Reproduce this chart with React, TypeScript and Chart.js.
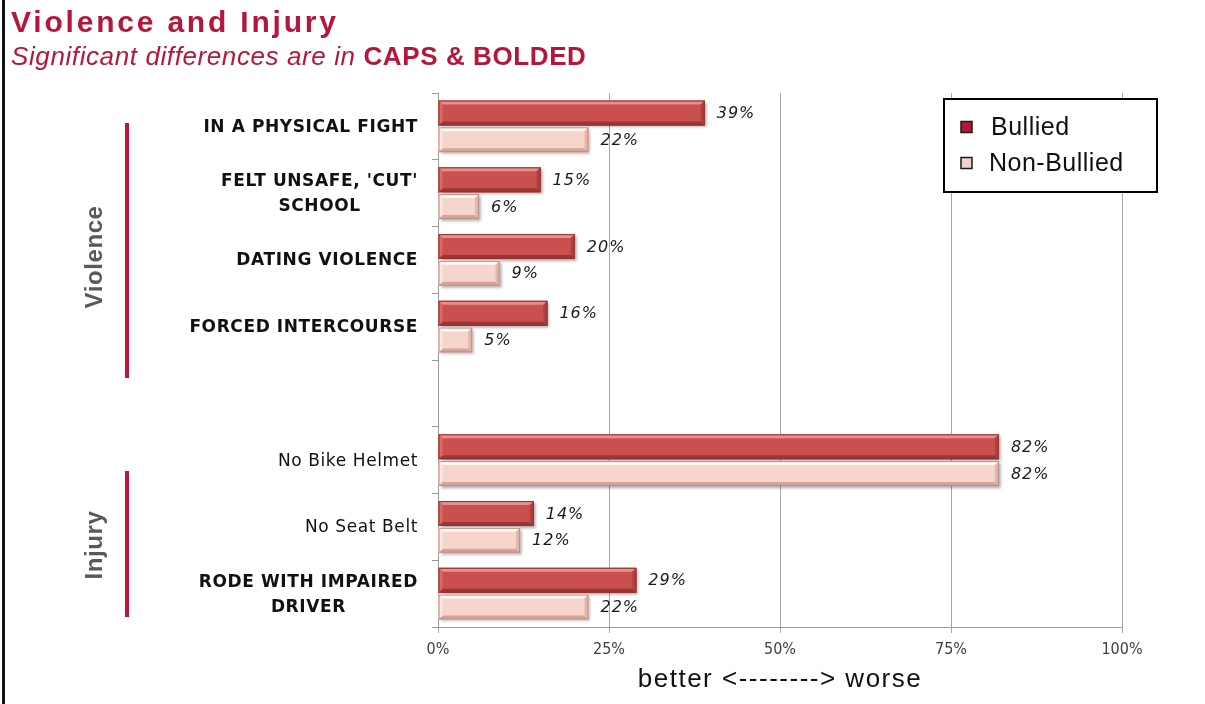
import React, { useEffect, useRef } from "react";
import { Chart, registerables } from "chart.js";

Chart.register(...registerables);

// ---------- data ----------
const categories: (string | string[])[] = [
  "IN A PHYSICAL FIGHT",
  ["FELT UNSAFE, 'CUT'", "SCHOOL"],
  "DATING VIOLENCE",
  "FORCED INTERCOURSE",
  "",
  "No Bike Helmet",
  "No Seat Belt",
  ["RODE WITH IMPAIRED", "DRIVER"],
];
const significant = [true, true, true, true, false, false, false, true];
const bulliedValues: (number | null)[] = [39, 15, 20, 16, null, 82, 14, 29];
const nonBulliedValues: (number | null)[] = [22, 6, 9, 5, null, 82, 12, 22];
const seriesLabels = ["Bullied", "Non-Bullied"];
const xTickValues = [0, 25, 50, 75, 100];
const xAxisTitle = "better <--------> worse";
const groupLabels = ["Violence", "Injury"];
const titleText = "Violence and Injury";
const subtitlePlain = "Significant differences are in ";
const subtitleBold = "CAPS & BOLDED";

// ---------- styles ----------
const CRIMSON = "#b5173a";
const palettes = [
  { face: "#c9504f", top: "#e8908c", left: "#d96a67", right: "#b0403e", bottom: "#9c3533", edge: "#8f3331" },
  { face: "#f6d5cc", top: "#fff6f3", left: "#fbe6df", right: "#e5b7ab", bottom: "#d6a598", edge: "#b48f86" },
];
const legendSwatch = ["#b5173a", "#f2d2ca"];
// decorative group brackets: [lineTop, lineBottom, textCenterY]
const groupDeco = [
  [123, 378, 257],
  [471, 617, 545],
];

function poly(ctx: CanvasRenderingContext2D, pts: number[][], color: string) {
  ctx.beginPath();
  ctx.moveTo(pts[0][0], pts[0][1]);
  for (let i = 1; i < pts.length; i++) ctx.lineTo(pts[i][0], pts[i][1]);
  ctx.closePath();
  ctx.fillStyle = color;
  ctx.fill();
}

function barRect(el: any) {
  const p = el.getProps(["x", "y", "base", "height"], true);
  const x0 = Math.min(p.base, p.x);
  const x1 = Math.max(p.base, p.x);
  const y0 = p.y - p.height / 2;
  const y1 = p.y + p.height / 2;
  return { x0, x1, y0, y1, cy: p.y };
}

const barDecorPlugin = {
  id: "barDecor",
  beforeDatasetsDraw(chart: any) {
    const ctx: CanvasRenderingContext2D = chart.ctx;
    chart.data.datasets.forEach((ds: any, di: number) => {
      const meta = chart.getDatasetMeta(di);
      meta.data.forEach((el: any, i: number) => {
        if (ds.data[i] == null) return;
        const r = barRect(el);
        ctx.save();
        ctx.shadowColor = "rgba(0,0,0,0.35)";
        ctx.shadowOffsetX = 2;
        ctx.shadowOffsetY = 2;
        ctx.shadowBlur = 3;
        ctx.fillStyle = palettes[di].face;
        ctx.fillRect(r.x0, r.y0, r.x1 - r.x0, r.y1 - r.y0);
        ctx.restore();
      });
    });
  },
  afterDatasetsDraw(chart: any) {
    const ctx: CanvasRenderingContext2D = chart.ctx;
    chart.data.datasets.forEach((ds: any, di: number) => {
      const meta = chart.getDatasetMeta(di);
      const pal = palettes[di];
      meta.data.forEach((el: any, i: number) => {
        const v = ds.data[i];
        if (v == null) return;
        const { x0, x1, y0, y1, cy } = barRect(el);
        const w = x1 - x0;
        const h = y1 - y0;
        const b = Math.min(4, w / 2, h / 2);
        ctx.save();
        poly(ctx, [[x0, y0], [x1, y0], [x1 - b, y0 + b], [x0 + b, y0 + b]], pal.top);
        poly(ctx, [[x0, y1], [x1, y1], [x1 - b, y1 - b], [x0 + b, y1 - b]], pal.bottom);
        poly(ctx, [[x0, y0], [x0 + b, y0 + b], [x0 + b, y1 - b], [x0, y1]], pal.left);
        poly(ctx, [[x1, y0], [x1 - b, y0 + b], [x1 - b, y1 - b], [x1, y1]], pal.right);
        ctx.strokeStyle = pal.edge;
        ctx.lineWidth = 1;
        ctx.strokeRect(x0 + 0.5, y0 + 0.5, w - 1, h - 1);
        // value label
        ctx.font = "italic 16px 'DejaVu Sans', sans-serif";
        (ctx as any).letterSpacing = "1px";
        ctx.fillStyle = "#1a1a1a";
        ctx.textAlign = "left";
        ctx.textBaseline = "middle";
        ctx.fillText(v + "%", x1 + 12, cy + 1);
        ctx.restore();
      });
    });
  },
  afterDraw(chart: any) {
    const ctx: CanvasRenderingContext2D = chart.ctx;
    const yScale = chart.scales.y;
    const xScale = chart.scales.x;
    const area = chart.chartArea;
    ctx.save();
    // category labels
    const labelRight = area.left - 20;
    categories.forEach((lab, i) => {
      const lines = Array.isArray(lab) ? lab : [lab];
      if (!lines[0]) return;
      const cy = yScale.getPixelForValue(i);
      ctx.font = significant[i]
        ? "bold 17px 'DejaVu Sans', sans-serif"
        : "17px 'DejaVu Sans', sans-serif";
      (ctx as any).letterSpacing = "0.6px";
      ctx.fillStyle = "#111";
      ctx.textBaseline = "middle";
      ctx.textAlign = "center";
      const widths = lines.map((l) => ctx.measureText(l).width);
      const maxW = Math.max(...widths);
      const cx = labelRight - maxW / 2;
      const lh = 25;
      lines.forEach((l, k) => {
        const y = cy + (k - (lines.length - 1) / 2) * lh + 1;
        ctx.fillText(l, cx, y);
      });
    });
    // group brackets
    groupLabels.forEach((g, gi) => {
      const [t, bt, ty] = groupDeco[gi];
      ctx.fillStyle = "#c0163b";
      ctx.fillRect(125, t, 4, bt - t);
      ctx.save();
      ctx.translate(102, ty);
      ctx.rotate(-Math.PI / 2);
      ctx.font = "bold 24px 'Liberation Sans', Arial, sans-serif";
      (ctx as any).letterSpacing = "0.6px";
      ctx.fillStyle = "#595959";
      ctx.textAlign = "center";
      ctx.textBaseline = "alphabetic";
      ctx.fillText(g, 0, 0);
      ctx.restore();
    });
    // x axis title
    ctx.font = "26px 'Liberation Sans', Arial, sans-serif";
    (ctx as any).letterSpacing = "1.5px";
    ctx.fillStyle = "#111";
    ctx.textAlign = "center";
    ctx.textBaseline = "middle";
    ctx.fillText(xAxisTitle, (xScale.left + xScale.right) / 2, 680);
    // legend
    const lx = 944, ly = 99, lw = 213, lh2 = 93;
    ctx.fillStyle = "#fff";
    ctx.fillRect(lx, ly, lw, lh2);
    ctx.strokeStyle = "#000";
    ctx.lineWidth = 2;
    ctx.strokeRect(lx, ly, lw, lh2);
    seriesLabels.forEach((s, k) => {
      const cy = 127 + k * 36;
      ctx.fillStyle = legendSwatch[k];
      ctx.fillRect(961, cy - 5.5, 11, 11);
      ctx.strokeStyle = "#1a1a1a";
      ctx.lineWidth = 1.5;
      ctx.strokeRect(961, cy - 5.5, 11, 11);
      ctx.font = "25px 'Liberation Sans', Arial, sans-serif";
      (ctx as any).letterSpacing = "0.5px";
      ctx.fillStyle = "#111";
      ctx.textAlign = "left";
      ctx.textBaseline = "middle";
      ctx.fillText(s, k === 0 ? 991 : 989, cy + 1);
    });
    ctx.restore();
  },
};

export default function App() {
  const ref = useRef<HTMLCanvasElement | null>(null);
  useEffect(() => {
    if (!ref.current) return;
    const chart = new Chart(ref.current, {
      type: "bar",
      data: {
        labels: categories as any,
        datasets: [
          {
            label: seriesLabels[0],
            data: bulliedValues,
            backgroundColor: palettes[0].face,
            borderWidth: 0,
            categoryPercentage: 0.8,
            barPercentage: 0.93,
          },
          {
            label: seriesLabels[1],
            data: nonBulliedValues,
            backgroundColor: palettes[1].face,
            borderWidth: 0,
            categoryPercentage: 0.8,
            barPercentage: 0.93,
          },
        ],
      },
      options: {
        indexAxis: "y",
        responsive: false,
        maintainAspectRatio: false,
        animation: false,
        events: [],
        layout: { padding: { left: 0, top: 93, right: 83, bottom: 0 } },
        plugins: {
          legend: { display: false },
          title: { display: false },
          tooltip: { enabled: false },
        },
        scales: {
          x: {
            type: "linear",
            min: 0,
            max: 100,
            afterBuildTicks: (scale: any) => {
              scale.ticks = xTickValues.map((v) => ({ value: v }));
            },
            afterFit: (scale: any) => {
              scale.height = 77;
            },
            ticks: {
              callback: (v: any) => v + "%",
              color: "#404040",
              padding: 7,
              font: { family: "'Liberation Sans Narrow', 'DejaVu Sans Condensed', sans-serif", size: 16 },
            },
            grid: { color: "#a6a6a6", lineWidth: 1, tickLength: 6, drawTicks: true },
            border: { color: "#999", width: 1 },
          },
          y: {
            type: "category",
            afterFit: (scale: any) => {
              scale.width = 438;
            },
            ticks: { display: false },
            grid: {
              offset: true,
              drawOnChartArea: false,
              drawTicks: true,
              tickLength: 6,
              color: "#999",
            },
            border: { color: "#999", width: 1 },
          },
        },
      },
      plugins: [barDecorPlugin],
    } as any);
    return () => chart.destroy();
  }, []);

  return (
    <div
      style={{
        position: "fixed",
        left: 0,
        top: 0,
        width: 1205,
        height: 704,
        background: "#fff",
        overflow: "hidden",
      }}
    >
      <canvas
        ref={ref}
        width={1205}
        height={704}
        style={{ position: "absolute", left: 0, top: 0, width: 1205, height: 704 }}
      />
      <div style={{ position: "absolute", left: 2, top: 0, width: 3, height: 704, background: "#111" }} />
      <div
        style={{
          position: "absolute",
          left: 11,
          top: 7,
          fontFamily: "'Liberation Sans', Arial, sans-serif",
          fontWeight: "bold",
          fontSize: 30,
          letterSpacing: "2.8px",
          lineHeight: 1,
          color: CRIMSON,
          whiteSpace: "nowrap",
        }}
      >
        {titleText}
      </div>
      <div
        style={{
          position: "absolute",
          left: 11,
          top: 43,
          fontFamily: "'Liberation Sans', Arial, sans-serif",
          fontSize: 26,
          letterSpacing: "0.6px",
          lineHeight: 1,
          color: CRIMSON,
          whiteSpace: "nowrap",
        }}
      >
        <span style={{ fontStyle: "italic" }}>{subtitlePlain}</span>
        <span style={{ fontWeight: "bold" }}>{subtitleBold}</span>
      </div>
    </div>
  );
}
